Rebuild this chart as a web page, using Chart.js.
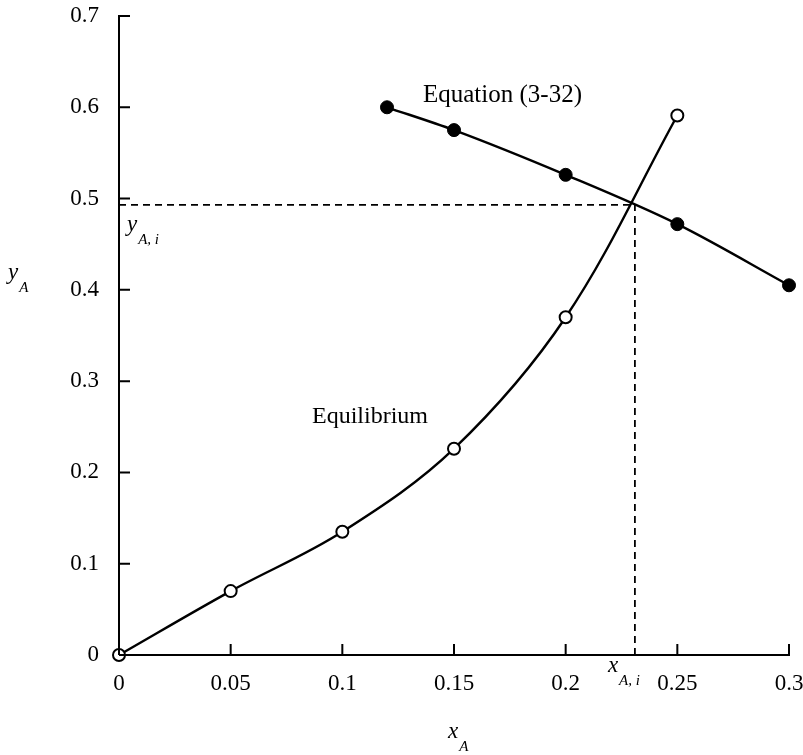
<!DOCTYPE html>
<html>
<head>
<meta charset="utf-8">
<script src="https://cdn.jsdelivr.net/npm/chart.js@4/dist/chart.umd.min.js"></script>
<style>
  html, body { margin: 0; padding: 0; background: #fff; }
  #wrap { width: 803px; height: 755px; position: relative; }
</style>
</head>
<body>
<div id="wrap"><canvas id="chart"></canvas></div>
<script>
// equilibrium curve (open circles)
const eqX = [0, 0.05, 0.1, 0.15, 0.2, 0.25];
const eqY = [0, 0.070, 0.135, 0.226, 0.370, 0.591];

// operating line from Equation (3-32) (filled circles)
const opX = [0.12, 0.15, 0.2, 0.25, 0.3];
const opY = [0.600, 0.575, 0.526, 0.472, 0.405];

// interface composition where the two curves cross
const xAi = 0.231;
const yAi = 0.493;

const xTickLabels = ["0", "0.05", "0.1", "0.15", "0.2", "0.25", "0.3"];
const yTickLabels = ["0", "0.1", "0.2", "0.3", "0.4", "0.5", "0.6", "0.7"];

const SERIF = "'Liberation Serif', 'Times New Roman', serif";

const toPoints = (xs, ys) => xs.map((x, i) => ({ x: x, y: ys[i] }));

// white background
const bgPlugin = {
  id: "bg",
  beforeDraw(chart) {
    const ctx = chart.ctx;
    ctx.save();
    ctx.fillStyle = "#fff";
    ctx.fillRect(0, 0, chart.width, chart.height);
    ctx.restore();
  },
};

// ticks point inward from the axis lines
const innerTicks = {
  id: "innerTicks",
  afterDatasetsDraw(chart) {
    const ctx = chart.ctx;
    const xs = chart.scales.x;
    const ys = chart.scales.y;
    const len = 11;
    ctx.save();
    ctx.strokeStyle = "#000";
    ctx.lineWidth = 2;
    ctx.beginPath();
    xs.ticks.forEach((t) => {
      const px = xs.getPixelForValue(t.value);
      ctx.moveTo(px, ys.bottom);
      ctx.lineTo(px, ys.bottom - len);
    });
    ys.ticks.forEach((t) => {
      const py = ys.getPixelForValue(t.value);
      ctx.moveTo(xs.left, py);
      ctx.lineTo(xs.left + len, py);
    });
    ctx.stroke();
    ctx.restore();
  },
};

// italic symbol with a subscript, e.g. y_A
function drawSym(ctx, main, sub, x, y) {
  ctx.font = "italic 23px " + SERIF;
  ctx.fillText(main, x, y);
  const w = ctx.measureText(main).width;
  ctx.font = "italic 15px " + SERIF;
  ctx.fillText(sub, x + w + 1, y + 13);
}

const labels = {
  id: "labels",
  afterDraw(chart) {
    const ctx = chart.ctx;
    const xs = chart.scales.x;
    const ys = chart.scales.y;
    ctx.save();
    ctx.fillStyle = "#000";
    ctx.textBaseline = "alphabetic";
    ctx.textAlign = "left";

    ctx.font = "25px " + SERIF;
    ctx.fillText("Equation (3-32)", 423, 102);
    ctx.font = "24px " + SERIF;
    ctx.fillText("Equilibrium", 312, 423);

    // axis titles
    drawSym(ctx, "y", "A", 8, 279);
    drawSym(ctx, "x", "A", 448, 738);

    // interface labels next to the dashed lines
    drawSym(ctx, "y", "A, i", xs.left + 8, ys.getPixelForValue(yAi) + 26);
    drawSym(ctx, "x", "A, i", xs.getPixelForValue(xAi) - 27, ys.bottom + 17);
    ctx.restore();
  },
};

new Chart(document.getElementById("chart"), {
  type: "scatter",
  data: {
    datasets: [
      {
        label: "Equilibrium",
        data: toPoints(eqX, eqY),
        showLine: true,
        tension: 0.35,
        borderColor: "#000",
        borderWidth: 2.4,
        pointRadius: 6,
        pointBorderWidth: 2,
        pointBackgroundColor: "#fff",
        pointBorderColor: "#000",
        clip: false,
        order: 1,
      },
      {
        label: "Equation (3-32)",
        data: toPoints(opX, opY),
        showLine: true,
        cubicInterpolationMode: "monotone",
        borderColor: "#000",
        borderWidth: 2.4,
        pointRadius: 6.5,
        pointBorderWidth: 1,
        pointBackgroundColor: "#000",
        pointBorderColor: "#000",
        clip: false,
        order: 1,
      },
      {
        label: "y_A,i",
        data: [{ x: 0, y: yAi }, { x: xAi, y: yAi }],
        showLine: true,
        borderColor: "#000",
        borderWidth: 1.8,
        borderDash: [7, 5],
        pointRadius: 0,
        order: 2,
      },
      {
        label: "x_A,i",
        data: [{ x: xAi, y: 0 }, { x: xAi, y: yAi }],
        showLine: true,
        borderColor: "#000",
        borderWidth: 1.8,
        borderDash: [7, 5],
        pointRadius: 0,
        order: 2,
      },
    ],
  },
  options: {
    responsive: true,
    maintainAspectRatio: false,
    animation: false,
    layout: { padding: { top: 16, right: 14, bottom: 0, left: 0 } },
    plugins: {
      legend: { display: false },
      tooltip: { enabled: false },
    },
    scales: {
      x: {
        type: "linear",
        min: 0,
        max: 0.3,
        afterFit: (s) => {
          s.height = 100;
          s.paddingLeft = 0;
          s.paddingRight = 0;
        },
        afterBuildTicks: (s) => {
          s.ticks = xTickLabels.map((l) => ({ value: parseFloat(l) }));
        },
        grid: { display: false, drawTicks: false },
        border: { display: true, color: "#000", width: 2 },
        ticks: {
          padding: 15,
          color: "#000",
          font: { family: SERIF, size: 23 },
          callback: (v, i) => xTickLabels[i],
          maxRotation: 0,
        },
      },
      y: {
        type: "linear",
        min: 0,
        max: 0.7,
        afterFit: (s) => {
          s.width = 119;
          s.paddingTop = 0;
          s.paddingBottom = 0;
        },
        afterBuildTicks: (s) => {
          s.ticks = yTickLabels.map((l) => ({ value: parseFloat(l) }));
        },
        grid: { display: false, drawTicks: false },
        border: { display: true, color: "#000", width: 2 },
        ticks: {
          padding: 20,
          color: "#000",
          font: { family: SERIF, size: 23 },
          callback: (v, i) => yTickLabels[i],
        },
      },
    },
  },
  plugins: [bgPlugin, innerTicks, labels],
});
</script>
</body>
</html>
